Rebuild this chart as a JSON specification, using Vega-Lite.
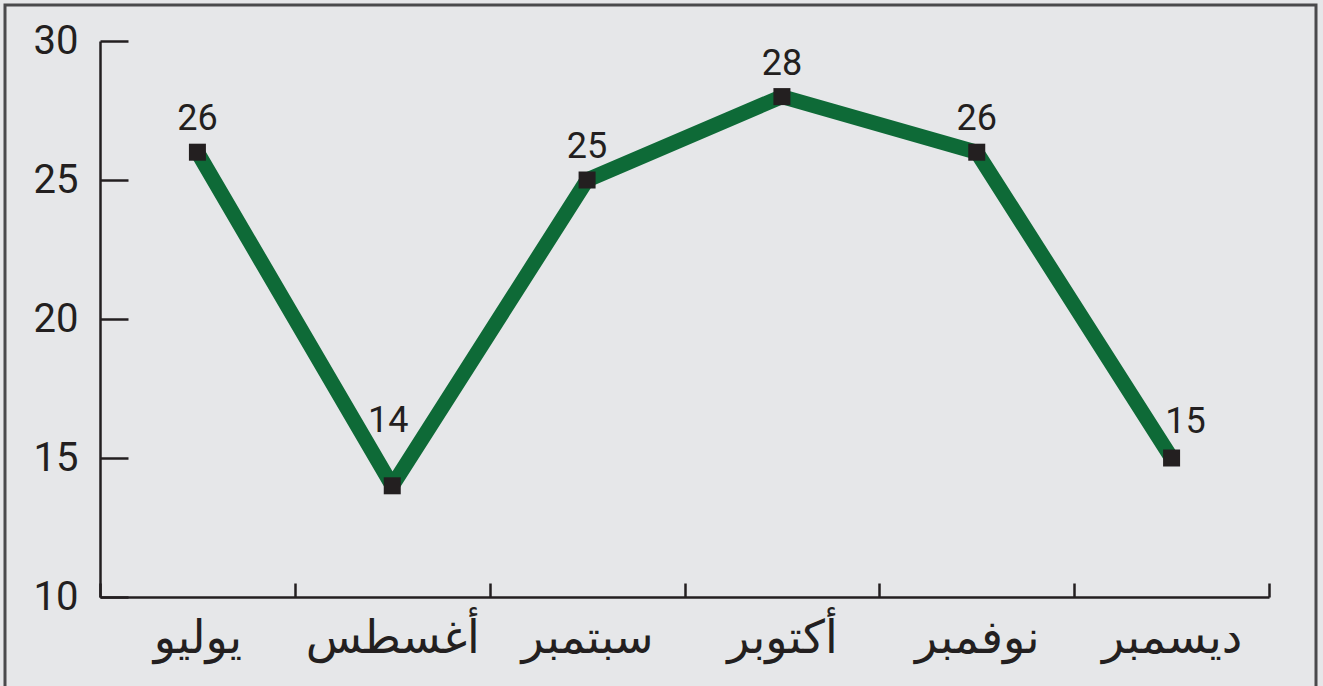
{
  "$schema": "https://vega.github.io/schema/vega-lite/v6.json",
  "width": 1311,
  "height": 690,
  "autosize": {"type": "none"},
  "padding": {"left": 5, "top": 5, "right": 7, "bottom": 0},
  "background": "#e6e7e9",
  "config": {"view": {"stroke": "#4a4a4c", "strokeWidth": 3, "fill": "#e6e7e9"}},
  "data": {"values": [
    {"month": "يوليو", "value": 26},
    {"month": "أغسطس", "value": 14},
    {"month": "سبتمبر", "value": 25},
    {"month": "أكتوبر", "value": 28},
    {"month": "نوفمبر", "value": 26},
    {"month": "ديسمبر", "value": 15}
  ]},
  "encoding": {
    "x": {
      "field": "month", "type": "nominal", "sort": null,
      "scale": {"range": [95, 1264], "paddingInner": 0, "paddingOuter": 0},
      "axis": {
        "orient": "bottom", "offset": -98, "title": null, "tickBand": "extent",
        "tickSize": -14, "tickWidth": 2.5, "tickColor": "#231f20",
        "domainColor": "#231f20", "domainWidth": 2.5,
        "labelFont": "DejaVu Sans", "labelFontSize": 46, "labelColor": "#231f20",
        "labelBaseline": "alphabetic", "labelPadding": 69, "labelAngle": 0, "grid": false
      }
    },
    "y": {
      "field": "value", "type": "quantitative",
      "scale": {"domain": [10, 30], "range": [592, 36], "nice": false, "zero": false},
      "axis": {
        "orient": "left", "offset": -95, "title": null, "values": [10, 15, 20, 25, 30],
        "tickSize": -28, "tickWidth": 2.5, "tickColor": "#231f20",
        "domainColor": "#231f20", "domainWidth": 2.5,
        "labelFont": "Roboto", "labelFontSize": 40, "labelColor": "#231f20",
        "labelPadding": 50, "grid": false
      }
    }
  },
  "layer": [
    {"mark": {"type": "line", "color": "#0e6a37", "strokeWidth": 15, "strokeJoin": "round"}},
    {"mark": {"type": "point", "shape": "square", "filled": true, "size": 289, "color": "#231f20", "opacity": 1}},
    {"transform": [{"filter": "datum.value != 14 && datum.value != 15"}],
     "mark": {"type": "text", "baseline": "alphabetic", "dy": -22, "fontSize": 36, "font": "Roboto", "color": "#231f20"},
     "encoding": {"text": {"field": "value", "type": "quantitative"}}},
    {"transform": [{"filter": "datum.value == 14"}],
     "mark": {"type": "text", "baseline": "alphabetic", "dy": -54, "dx": -4, "fontSize": 36, "font": "Roboto", "color": "#231f20"},
     "encoding": {"text": {"field": "value", "type": "quantitative"}}},
    {"transform": [{"filter": "datum.value == 15"}],
     "mark": {"type": "text", "baseline": "alphabetic", "dy": -25, "dx": 14, "fontSize": 36, "font": "Roboto", "color": "#231f20"},
     "encoding": {"text": {"field": "value", "type": "quantitative"}}}
  ]
}
